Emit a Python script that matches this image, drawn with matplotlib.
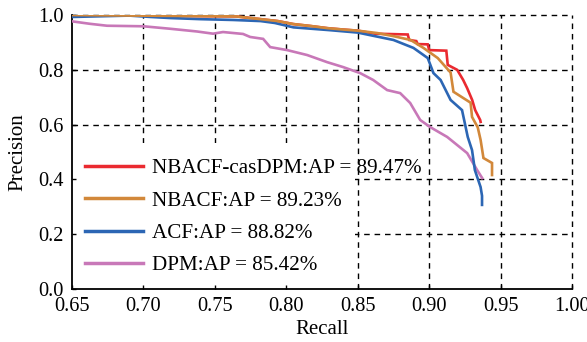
import matplotlib
matplotlib.use("Agg")
import matplotlib.pyplot as plt
from matplotlib.patches import Rectangle

plt.rcParams['font.family'] = ['Liberation Serif', 'DejaVu Serif']
plt.rcParams['mathtext.fontset'] = 'stix'

# ---- data ----
red_recall = [0.65, 0.765, 0.782, 0.794, 0.805, 0.817, 0.829, 0.84, 0.850, 0.862, 0.885, 0.886, 0.891,
              0.892, 0.899, 0.900, 0.912, 0.913, 0.9196, 0.9238, 0.9266, 0.9301, 0.9322, 0.9357, 0.936]
red_prec = [1.0, 0.995, 0.985, 0.978, 0.967, 0.96, 0.952, 0.947, 0.943, 0.932, 0.929, 0.909, 0.905,
            0.894, 0.893, 0.872, 0.870, 0.818, 0.80, 0.763, 0.733, 0.69, 0.653, 0.617, 0.61]

orange_recall = [0.65, 0.765, 0.782, 0.794, 0.805, 0.817, 0.829, 0.84, 0.850, 0.864, 0.875, 0.887, 0.896,
                 0.906, 0.915, 0.917, 0.923, 0.929, 0.930, 0.934, 0.936, 0.938, 0.944, 0.944]
orange_prec = [1.0, 0.995, 0.985, 0.978, 0.967, 0.96, 0.952, 0.947, 0.943, 0.934, 0.923, 0.909, 0.88,
               0.843, 0.79, 0.72, 0.70, 0.68, 0.628, 0.59, 0.544, 0.478, 0.46, 0.416]

blue_recall = [0.65, 0.69, 0.705, 0.719, 0.74, 0.763, 0.782, 0.792, 0.805, 0.83, 0.85, 0.862, 0.875,
               0.889, 0.899, 0.903, 0.908, 0.915, 0.923, 0.927, 0.930, 0.932, 0.936, 0.937, 0.937]
blue_prec = [0.993, 0.998, 0.993, 0.989, 0.985, 0.982, 0.978, 0.971, 0.955, 0.945, 0.936, 0.923, 0.909,
             0.88, 0.843, 0.788, 0.763, 0.69, 0.653, 0.555, 0.507, 0.434, 0.372, 0.34, 0.307]

pink_recall = [0.65, 0.6626, 0.6745, 0.70, 0.7186, 0.7375, 0.7487, 0.7557, 0.7697, 0.7747, 0.7838, 0.7887,
               0.8006, 0.8146, 0.8286, 0.8398, 0.8517, 0.8608, 0.8706, 0.8797, 0.8867, 0.8937, 0.9007,
               0.9126, 0.9266, 0.9336, 0.9371]
pink_prec = [0.977, 0.968, 0.961, 0.959, 0.95, 0.94, 0.932, 0.938, 0.931, 0.92, 0.913, 0.883, 0.872,
             0.854, 0.828, 0.81, 0.788, 0.763, 0.726, 0.715, 0.679, 0.617, 0.591, 0.555, 0.496, 0.434, 0.405]

labels = ["NBACF-casDPM:AP = 89.47%", "NBACF:AP = 89.23%", "ACF:AP = 88.82%", "DPM:AP = 85.42%"]
colors = ["#ea2a30", "#d2883a", "#2c66b4", "#c878b8"]

xticks = [0.65, 0.70, 0.75, 0.80, 0.85, 0.90, 0.95, 1.00]
yticks = [0.0, 0.2, 0.4, 0.6, 0.8, 1.0]

fig = plt.figure(figsize=(5.87, 3.42), dpi=100)
ax = fig.add_axes([0.1227, 0.155, 0.8518, 0.801])

series = [(red_recall, red_prec), (orange_recall, orange_prec), (blue_recall, blue_prec), (pink_recall, pink_prec)]
handles = []
for (xs, ys), c, lab in zip(series, colors, labels):
    h, = ax.plot(xs, ys, color=c, lw=1.9, label=lab, zorder=3, solid_joinstyle='miter')
    handles.append(h)
for h, z in zip(handles, [3.0, 3.3, 3.2, 3.1]):
    h.set_zorder(z)

ax.set_xlim(0.65, 1.0)
ax.set_ylim(0.0, 1.0)

# dashed grid drawn manually so the legend background can sit above it
for xv in xticks[1:]:
    ax.axvline(xv, color='black', lw=1.0, ls=(0, (4, 3.5)), zorder=1.0, clip_on=False)
for yv in yticks[1:]:
    ax.axhline(yv, color='black', lw=1.0, ls=(0, (4, 3.5)), zorder=1.0, clip_on=False)

ax.add_patch(Rectangle((0.0, 0.0), 0.566, 0.533, transform=ax.transAxes,
                       facecolor='white', edgecolor='none', zorder=1.2))

ax.set_xticks(xticks)
ax.set_xticklabels([f"{v:.2f}" for v in xticks])
ax.set_yticks(yticks)
ax.set_yticklabels([f"{v:.1f}" for v in yticks])
ax.tick_params(direction='in', length=3, width=1.0, labelsize=14.7, pad=6)
ax.spines['top'].set_visible(False)
ax.spines['right'].set_visible(False)
ax.spines['left'].set_linewidth(1.3)
ax.spines['bottom'].set_linewidth(1.3)

ax.set_xlabel("Recall", fontsize=15)
ax.set_ylabel("Precision", fontsize=15)
ax.xaxis.set_label_coords(0.50, -0.115)
ax.yaxis.set_label_coords(-0.09, 0.5)

leg = ax.legend(handles=handles, loc='upper left', bbox_to_anchor=(0.013, 0.50),
                frameon=False, fontsize=15.2, handlelength=2.75, handletextpad=0.45,
                labelspacing=0.6, borderaxespad=0.0, borderpad=0.3)
for ln in leg.get_lines():
    ln.set_linewidth(2.5)

fig.savefig("out.png", dpi=100, facecolor='white')
